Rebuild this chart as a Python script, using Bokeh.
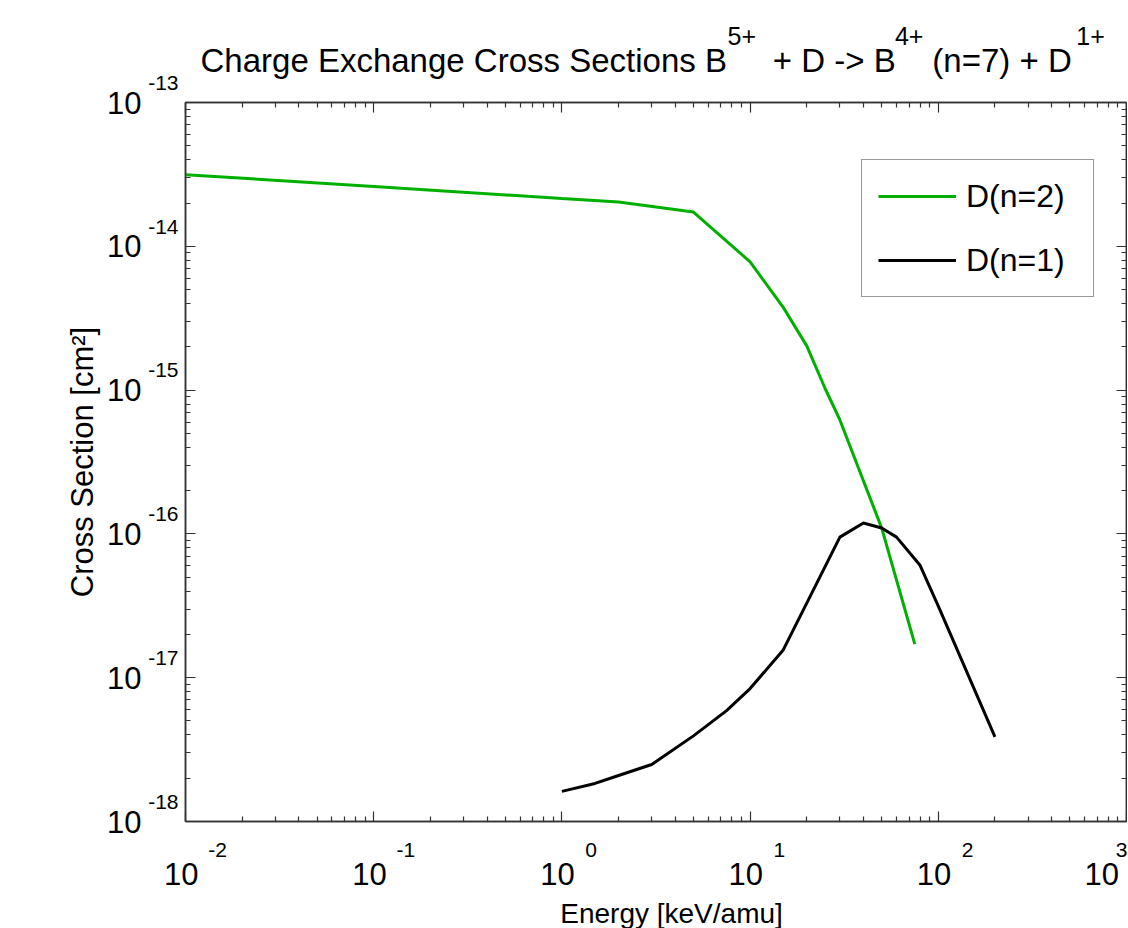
from bokeh.plotting import figure
from bokeh.models import (LogAxis, FixedTicker, Legend, LegendItem, Title,
                          CustomJSTickFormatter)
from bokeh.embed import file_html
from bokeh.resources import INLINE

# ---------------- data ----------------
green_E = [0.01, 0.1, 1, 2, 5, 10, 15, 20, 25, 30, 50, 75]
green_sigma = [3.15e-14, 2.61e-14, 2.15e-14, 2.03e-14, 1.73e-14, 7.8e-15,
               3.76e-15, 2.03e-15, 1.03e-15, 6.2e-16, 1.1e-16, 1.71e-17]

black_E = [1, 1.5, 2, 3, 5, 7.5, 10, 15, 20, 30, 40, 50, 60, 80, 100, 200]
black_sigma = [1.62e-18, 1.84e-18, 2.09e-18, 2.49e-18, 3.94e-18, 5.9e-18,
               8.4e-18, 1.56e-17, 3.3e-17, 9.5e-17, 1.19e-16, 1.1e-16,
               9.5e-17, 6.05e-17, 3.15e-17, 3.88e-18]

x_ticks = [1e-2, 1e-1, 1e0, 1e1, 1e2, 1e3]
x_exponents = ["-2", "-1", "0", "1", "2", "3"]
y_ticks = [1e-18, 1e-17, 1e-16, 1e-15, 1e-14, 1e-13]
y_exponents = ["-18", "-17", "-16", "-15", "-14", "-13"]
tick_base = "10"

series_labels = ["D(n=2)", "D(n=1)"]
series_colors = ["#00b000", "#000000"]

title_main = ["Charge Exchange Cross Sections B", "+ D -> B", "(n=7) + D"]
title_sup = ["5+", "4+", "1+"]
x_label = "Energy [keV/amu]"
y_label = "Cross Section [cm\u00b2]"

# ---------------- styling ----------------
FONT = "Liberation Sans"
NB = "\u00a0"
AX_COLOR = "#333333"

p = figure(x_axis_type="log", y_axis_type="log", title=None,
           x_range=(1e-2, 1e3), y_range=(1e-18, 1e-13),
           frame_width=941, frame_height=719,
           min_border_left=185, min_border_right=1,
           min_border_top=102, min_border_bottom=104,
           output_backend="svg", toolbar_location=None)
p.xgrid.visible = False
p.ygrid.visible = False
p.outline_line_color = AX_COLOR
p.outline_line_width = 1.5
p.background_fill_color = "white"
p.border_fill_color = "white"

xminor = [k * 10.0 ** e for e in range(-2, 3) for k in range(2, 10)]
yminor = [k * 10.0 ** e for e in range(-18, -13) for k in range(2, 10)]

# frame axes (ticks only, on all four sides)
p.add_layout(LogAxis(), "above")
p.add_layout(LogAxis(), "right")
blank = CustomJSTickFormatter(code="return ''")
for ax in p.xaxis:
    ax.ticker = FixedTicker(ticks=x_ticks, minor_ticks=xminor)
for ax in p.yaxis:
    ax.ticker = FixedTicker(ticks=y_ticks, minor_ticks=yminor)
for ax in p.xaxis + p.yaxis:
    ax.formatter = blank
    ax.major_label_text_font_size = "1px"
    ax.major_label_standoff = 0
    ax.major_tick_in = 10
    ax.major_tick_out = 0
    ax.minor_tick_in = 5
    ax.minor_tick_out = 0
    ax.axis_line_color = AX_COLOR
    ax.axis_line_width = 1.5
    ax.major_tick_line_color = AX_COLOR
    ax.minor_tick_line_color = AX_COLOR
    ax.major_tick_line_width = 1.2
    ax.minor_tick_line_width = 1.2


def label_axis(ticks, overrides, size, standoff, **kw):
    ax = LogAxis(ticker=FixedTicker(ticks=ticks, minor_ticks=[]),
                 major_label_overrides=overrides,
                 major_tick_in=0, major_tick_out=0,
                 minor_tick_in=0, minor_tick_out=0,
                 axis_line_color=None, major_tick_line_color=None,
                 minor_tick_line_color=None,
                 major_label_standoff=standoff,
                 major_label_text_font=FONT,
                 major_label_text_font_size=size,
                 major_label_text_color="black", **kw)
    return ax


# x tick labels: exponent row (nearest the frame), then the "10" row
x_exp = {t: NB * (9 + len(e)) + e for t, e in zip(x_ticks, x_exponents)}
x_ten = {t: tick_base + NB for t in x_ticks}
p.add_layout(label_axis(x_ticks, x_exp, "21px", 16), "below")
p.add_layout(label_axis(x_ticks, x_ten, "31px", -7,
                        axis_label=NB * 4 + x_label, axis_label_standoff=3,
                        axis_label_text_font=FONT,
                        axis_label_text_font_size="28px",
                        axis_label_text_font_style="normal",
                        axis_label_text_color="black"), "below")

# y tick labels: exponent column (nearest the frame), then the "10" column
y_exp = {t: e + "\n" + NB for t, e in zip(y_ticks, y_exponents)}
y_ten = {t: tick_base for t in y_ticks}
p.add_layout(label_axis(y_ticks, y_exp, "21px", 7,
                        major_label_text_line_height=1.75), "left")
p.add_layout(label_axis(y_ticks, y_ten, "31px", 4,
                        axis_label=y_label, axis_label_standoff=4,
                        axis_label_text_font=FONT,
                        axis_label_text_font_size="31px",
                        axis_label_text_font_style="normal",
                        axis_label_text_color="black"), "left")

# spacer between the frame and the title rows
p.add_layout(Title(text=NB, align="left", standoff=11,
                   text_font=FONT, text_font_size="10px",
                   text_font_style="normal", text_color="black"), "above")
# title: base row and superscript row
main_txt = title_main[0] + NB * 5 + title_main[1] + NB * 4 + title_main[2]
sup_txt = title_sup[0] + NB * 20 + title_sup[1] + NB * 22 + title_sup[2]
p.add_layout(Title(text=main_txt, align="left", offset=15, standoff=0,
                   text_font=FONT, text_font_size="33px",
                   text_font_style="normal", text_color="black"), "above")
p.add_layout(Title(text=sup_txt, align="left", offset=542, standoff=-21,
                   text_font=FONT, text_font_size="25px",
                   text_font_style="normal", text_color="black"), "above")

r_green = p.line(green_E, green_sigma, line_color=series_colors[0], line_width=3)
r_black = p.line(black_E, black_sigma, line_color=series_colors[1], line_width=3)

legend = Legend(items=[LegendItem(label=series_labels[0], renderers=[r_green]),
                       LegendItem(label=series_labels[1], renderers=[r_black])],
                location=(862 - 186, 822 - 298), orientation="vertical",
                padding=16, spacing=24, margin=0,
                glyph_width=78, glyph_height=40, label_height=40,
                label_width=111, label_standoff=10,
                label_text_font=FONT, label_text_font_size="32px",
                label_text_color="black",
                border_line_color=AX_COLOR, border_line_width=1.5,
                background_fill_color="white", background_fill_alpha=1)
p.add_layout(legend, "center")

open("out.html", "w").write(file_html(p, INLINE))
